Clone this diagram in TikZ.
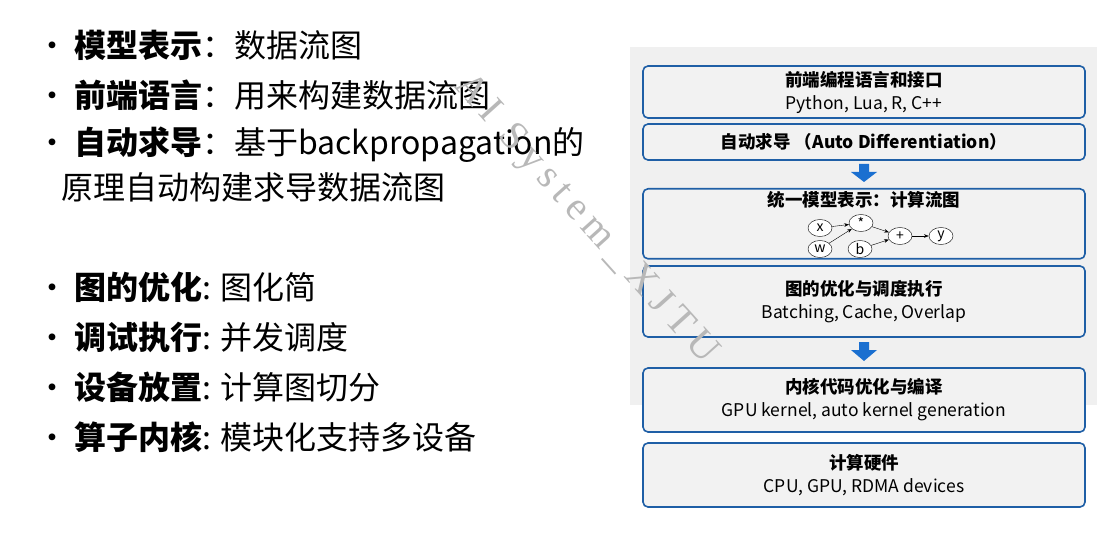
\documentclass[tikz,border=0pt]{standalone}
\usepackage{fontspec}
\setmainfont{Noto Sans CJK SC}
\newfontfamily\wmfont[LetterSpace=18]{Liberation Serif}
\usetikzlibrary{positioning, shapes.geometric, arrows.meta}
\definecolor{layerblue}{HTML}{1F5FA6}
\definecolor{arrowblue}{HTML}{1A6FD0}

\begin{document}
\begin{tikzpicture}[x=1pt, y=-1pt, >=Stealth,
    layer/.style={draw=layerblue, line width=1.6pt, rounded corners=5pt, fill=white!95!black, minimum width=442pt, align=center, inner sep=2pt, font=\fontsize{17.5}{23}\selectfont},
    item/.style={anchor=west, inner sep=0pt, font=\fontsize{32}{40}\selectfont},
    op/.style={draw, ellipse, minimum width=24pt, minimum height=17pt, inner sep=0pt, font=\fontsize{14}{14}\selectfont},
    down/.style={fill=arrowblue, draw=none}]
    \useasboundingbox (0,0) rectangle (1115,534);

    % Left list
    \node[item] (i1) at (36,45) {·\hspace{6pt}\textbf{模型表示}：数据流图};
    \node[item] (i2) at (36,95) {·\hspace{6pt}\textbf{前端语言}：用来构建数据流图};
    \node[item] (i3) at (36,145) {·\hspace{6pt}\textbf{自动求导}：基于backpropagation的};
    \node[item] (i3b) at (61,187) {原理自动构建求导数据流图};
    \node[item] (i4) at (36,287) {·\hspace{6pt}\textbf{图的优化}: 图化简};
    \node[item] (i5) at (36,337) {·\hspace{6pt}\textbf{调试执行}: 并发调度};
    \node[item] (i6) at (36,387) {·\hspace{6pt}\textbf{设备放置}: 计算图切分};
    \node[item] (i7) at (36,437) {·\hspace{6pt}\textbf{算子内核}: 模块化支持多设备};

    % Panel
    \fill[white!94!black] (630,47) rectangle (1097,405);

    % Layers
    \node[layer, minimum height=52pt] (l1) at (864,92) {\textbf{前端编程语言和接口}\\Python, Lua, R, C++};
    \node[layer, minimum height=36pt] (l2) at (864,142) {\textbf{自动求导 （Auto Differentiation）}};
    \node[layer, minimum height=70pt, anchor=north] (l3) at (864,188) {};
    \node[font=\fontsize{17.5}{20}\selectfont\bfseries] (l3t) at (864,200) {统一模型表示：计算流图};
    \node[layer, minimum height=71pt] (l4) at (864,301.5) {\textbf{图的优化与调度执行}\\Batching, Cache, Overlap};
    \node[layer, minimum height=64pt] (l5) at (864,400) {\textbf{内核代码优化与编译}\\GPU kernel, auto kernel generation};
    \node[layer, minimum height=64pt] (l6) at (864,475) {\textbf{计算硬件}\\CPU, GPU, RDMA devices};

    % Block arrows
    \fill[down] (859,164) rectangle (869,172) -- (877,172) -- (864,182) -- (851,172) -- (859,172);
    \fill[down] (859,342) rectangle (869,350) -- (877,350) -- (864,361) -- (851,350) -- (859,350);

    % Small graph
    \node[op, fill=white] (x) at (820,228) {x};
    \node[op, fill=white] (w) at (820,249) {w};
    \node[op, fill=white] (m) at (861,223) {*};
    \node[op, fill=white] (b) at (860,249) {b};
    \node[op, fill=white] (p) at (900,236) {+};
    \node[op, fill=white] (y) at (941,236) {y};
    \draw[->] (x) -- (m);
    \draw[->] (w) -- (m);
    \draw[->] (m) -- (p);
    \draw[->] (b) -- (p);
    \draw[->] (p) -- (y);

    % Watermark
    \node[rotate=-48, text=black!28, font=\fontsize{40}{40}\selectfont\wmfont] (wm) at (585,220) {AI System\_XJTU};
\end{tikzpicture}
\end{document}
